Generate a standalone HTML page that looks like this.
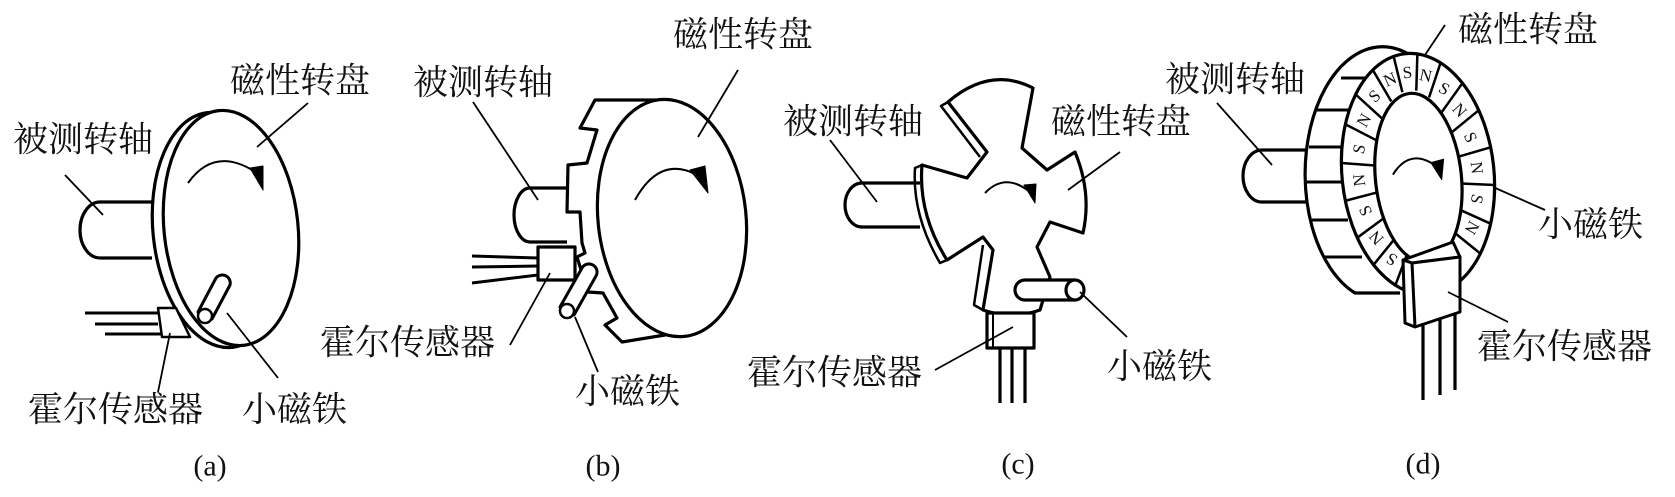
<!DOCTYPE html>
<html><head><meta charset="utf-8"><style>
html,body{margin:0;padding:0;background:#fff;}
svg{display:block;}
text{font-family:"Liberation Serif","Noto Serif CJK SC",serif;fill:#111;}
</style></head><body>
<svg width="1675" height="497" viewBox="0 0 1675 497" xmlns="http://www.w3.org/2000/svg">
<g fill="none" stroke="#000" stroke-width="3.2" stroke-linejoin="round">
<!-- (a) -->
<path d="M152,202 L100,202 A20,28 0 0 0 100,258 L152,258" fill="#fff"/>
<ellipse cx="220" cy="230" rx="67" ry="118" transform="rotate(-6 220 230)" fill="#fff"/>
<ellipse cx="231" cy="228" rx="67" ry="118" transform="rotate(-6 231 228)" fill="#fff"/>
<path d="M188,183 Q215,145 257,173" stroke-width="2"/>
<path d="M250,168 L263,190 L263,166 Z" fill="#000" stroke-width="1"/>
<path d="M198,312 L216,278 A8,8 0 0 1 230,285 L212,319 Z" fill="#fff" stroke-width="3"/>
<circle cx="205" cy="316" r="7" stroke-width="2.5" fill="#fff"/>
<path d="M158,308 L176,308 L190,337 L162,337 Z" fill="#fff" stroke-width="2.5"/>
<path d="M85,313 L158,313 M95,324 L158,324 M105,334 L162,334" stroke-width="3"/>
<g stroke-width="1.8">
<path d="M308,103 L257,147 M65,175 L103,215 M170,333 L158,392 M227,313 L278,378"/>
</g>
<!-- (b) -->
<path d="M567,188 L530,188 A16,27 0 0 0 530,242 L567,242" fill="#fff"/>
<path d="M595,100 L665,100 L665,335 L622,342 L605,325 L617,318 L603,293 L588,292 L577,257 L585,253 L582,243 L580,212 L567,212 L568,165 L587,163 L597,130 L580,128 Z" fill="#fff"/>
<ellipse cx="672" cy="218" rx="74" ry="119" transform="rotate(-6 672 218)" fill="#fff"/>
<path d="M635,200 Q660,155 697,175" stroke-width="2"/>
<path d="M690,170 L708,193 L705,166 Z" fill="#000" stroke-width="1"/>
<path d="M560,307 L582,268 A8,8 0 0 1 596,276 L574,315 Z" fill="#fff" stroke-width="3"/>
<circle cx="567" cy="311" r="7" stroke-width="2.5" fill="#fff"/>
<path d="M538,247 L575,247 L575,280 L538,280 Z" fill="#fff"/>
<path d="M472,256 L538,258 M472,267 L538,266 M472,283 L538,275" stroke-width="3"/>
<g stroke-width="1.8">
<path d="M738,70 L698,137 M473,102 L538,200 M510,345 L550,273 M598,372 L575,317"/>
</g>
<!-- (c) -->
<path d="M920,183 L862,183 A17,22 0 0 0 862,227 L920,227" fill="#fff"/>
<path d="M948,102 Q990,66 1033,88 L1022,148 L1047,170 L1075,152 Q1092,193 1083,233 L1050,222 L1037,247 L1050,277 L1040,310 Q1012,320 983,310 L993,250 L983,237 L947,260 Q918,214 922,165 L967,178 L987,152 Z" fill="#fff"/>
<path d="M948,102 L941,106 L980,157 M922,165 L915,168 Q912,215 940,263 L947,260 M983,245 L974,305 L983,310" stroke-width="2.5"/>
<path d="M985,193 Q1005,172 1030,192" stroke-width="2"/>
<path d="M1024,185 L1035,203 L1036,184 Z" fill="#000" stroke-width="1"/>
<path d="M1075,280 L1025,280 A10,10 0 0 0 1025,300 L1075,300" fill="#fff"/>
<ellipse cx="1075" cy="290" rx="9" ry="10" fill="#fff"/>
<path d="M987,313 L1034,313 L1034,348 L987,348 Z" fill="#fff"/>
<path d="M993,313 L993,348" stroke-width="2"/>
<path d="M1000,348 L1000,403 M1012,348 L1012,403 M1025,348 L1025,403"/>
<g stroke-width="1.8">
<path d="M830,140 L877,202 M1120,152 L1068,190 M935,370 L1013,327 M1127,337 L1080,292"/>
</g>
<!-- (d) -->
<path d="M1307,150 L1262,150 A19,26 0 0 0 1262,202 L1307,202" fill="#fff"/>
<path d="M1410,55 A73,120 0 0 0 1355,293 L1400,293" fill="#fff"/>
<path d="M1341,78 L1377,78 M1317,110 L1353,110 M1309,147 L1345,147 M1307,182 L1343,182 M1312,220 L1348,220 M1325,257 L1362,257" stroke-width="3"/>
<g transform="translate(1418,174) rotate(-6)">
<ellipse cx="0" cy="0" rx="76" ry="121" fill="#fff"/>
<ellipse cx="0" cy="4" rx="43" ry="85"/>
<path stroke-width="2.5" d="M7,-83 L12,-120 M19,-75 L34,-108 M30,-59 L54,-86 M38,-38 L67,-57 M42,-13 L75,-19 M42,14 L75,19 M38,40 L67,57 M30,62 L54,86 M-7,-83 L-12,-120 M-19,-75 L-34,-108 M-30,-59 L-54,-86 M-38,-38 L-67,-57 M-42,-13 L-75,-19 M-42,14 L-75,19 M-38,40 L-67,57 M-30,62 L-54,86 M-19,78 L-34,108"/>
<path d="M-25,-2 Q-5,-28 20,-5" stroke-width="2"/>
<path d="M14,-10 L23,8 L27,-12 Z" fill="#000" stroke-width="1"/>
</g>
<path d="M1403,260 L1453,242 L1460,257 L1412,263 Z" fill="#fff" stroke-width="3"/>
<path d="M1403,260 L1405,323 L1415,327 L1412,263 Z M1412,263 L1460,257 L1460,312 L1415,327" fill="#fff" stroke-width="3"/>
<path d="M1423,323 L1423,400 M1440,318 L1440,395 M1455,313 L1455,390"/>
<g stroke-width="1.8">
<path d="M1445,25 L1425,55 M1217,103 L1272,165 M1493,187 L1545,210 M1448,292 L1508,322"/>
</g>
</g>
<g font-size="17" text-anchor="middle" dominant-baseline="central">
<g transform="translate(1418,174) rotate(-6)">
<text x="0" y="-102" transform="rotate(0 0 -102)">S</text>
<text x="18" y="-97" transform="rotate(18 18 -97)">N</text>
<text x="35" y="-82" transform="rotate(36 35 -82)">S</text>
<text x="48" y="-59" transform="rotate(54 48 -59)">N</text>
<text x="56" y="-31" transform="rotate(72 56 -31)">S</text>
<text x="59" y="0" transform="rotate(90 59 0)">N</text>
<text x="56" y="31" transform="rotate(108 56 31)">S</text>
<text x="48" y="59" transform="rotate(126 48 59)">N</text>
<text x="-18" y="-97" transform="rotate(-18 -18 -97)">N</text>
<text x="-35" y="-82" transform="rotate(-36 -35 -82)">S</text>
<text x="-48" y="-59" transform="rotate(-54 -48 -59)">N</text>
<text x="-56" y="-31" transform="rotate(-72 -56 -31)">S</text>
<text x="-59" y="0" transform="rotate(-90 -59 0)">N</text>
<text x="-56" y="31" transform="rotate(-108 -56 31)">S</text>
<text x="-48" y="59" transform="rotate(-126 -48 59)">N</text>
<text x="-35" y="82" transform="rotate(-144 -35 82)">S</text>
</g>
</g>
<g font-size="35" dominant-baseline="central">
<text x="230" y="81">磁性转盘</text>
<text x="13" y="140">被测转轴</text>
<text x="28" y="410">霍尔传感器</text>
<text x="242" y="410">小磁铁</text>
<text x="673" y="35">磁性转盘</text>
<text x="413" y="83">被测转轴</text>
<text x="320" y="343">霍尔传感器</text>
<text x="575" y="392">小磁铁</text>
<text x="783" y="122">被测转轴</text>
<text x="1051" y="122">磁性转盘</text>
<text x="747" y="373">霍尔传感器</text>
<text x="1107" y="367">小磁铁</text>
<text x="1458" y="30">磁性转盘</text>
<text x="1165" y="80">被测转轴</text>
<text x="1538" y="225">小磁铁</text>
<text x="1477" y="347">霍尔传感器</text>
</g>
<g font-size="30" text-anchor="middle" dominant-baseline="central">
<text x="210" y="466">(a)</text>
<text x="603" y="466">(b)</text>
<text x="1018" y="464">(c)</text>
<text x="1423" y="464">(d)</text>
</g>
</svg>
</body></html>
